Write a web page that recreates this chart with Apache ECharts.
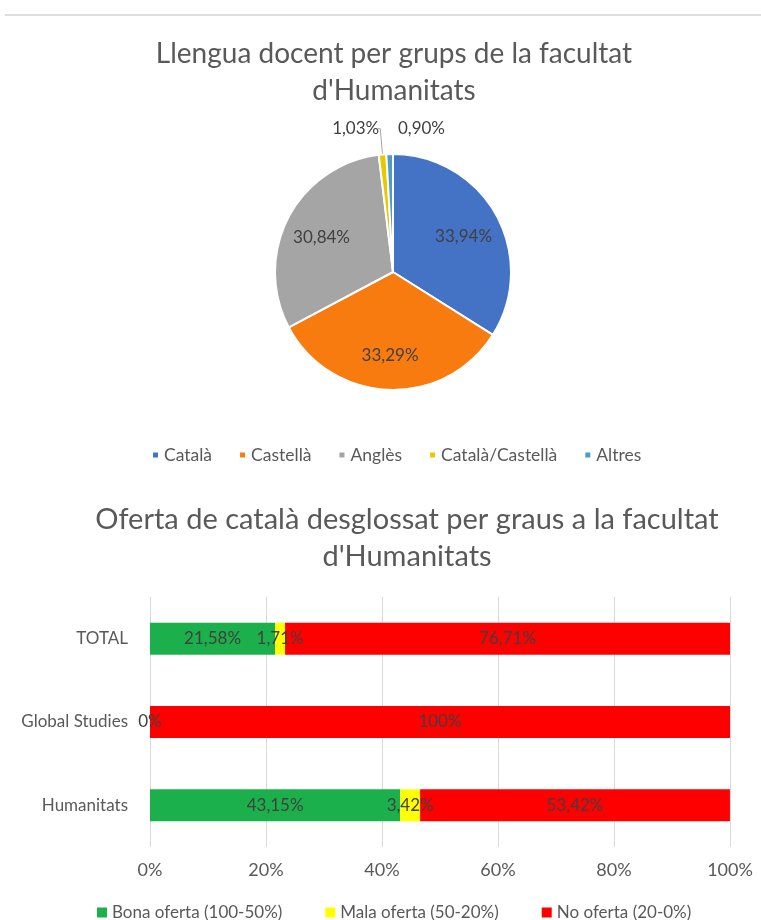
<!DOCTYPE html>
<html>
<head>
<meta charset="utf-8">
<title>Llengua docent - Facultat d'Humanitats</title>
<script src="https://cdn.jsdelivr.net/npm/echarts@6/dist/echarts.min.js"></script>
<style>
  html, body { margin: 0; padding: 0; background: #ffffff; }
  #chart { width: 761px; height: 920px; }
</style>
</head>
<body>
<div id="chart"></div>
<script>
// Pie: teaching language share per group
const pieNames = ['Català', 'Castellà', 'Anglès', 'Català/Castellà', 'Altres'];
const pieValues = [33.94, 33.29, 30.84, 1.03, 0.90];
const pieColors = ['#4472C4', '#F77B0E', '#A5A5A5', '#E8C900', '#4D9BCB'];

// Stacked bars: Catalan offer per degree
const degrees = ['Humanitats', 'Global Studies', 'TOTAL'];
const bonaOferta = [43.15, 0, 21.58];
const malaOferta = [3.42, 0, 1.71];
const noOferta = [53.42, 100, 76.71];
const offerNames = ['Bona oferta (100-50%)', 'Mala oferta (50-20%)', 'No oferta (20-0%)'];
const offerColors = ['#1BB04B', '#FFFF00', '#FF0000'];
const xTicks = [0, 20, 40, 60, 80, 100];

const FONT = 'Lato';
const TXT = '#595959';
const PIE_CENTER = [393, 272];
const PIE_RADIUS = 118;

function pct(v) {
  const s = Number.isInteger(v) ? String(v) : v.toFixed(2).replace('.', ',');
  return s + '%';
}

const chart = echarts.init(document.getElementById('chart'), null, { renderer: 'canvas' });

const pieData = pieNames.map((n, i) => {
  const small = pieValues[i] < 5;
  return {
    name: n,
    value: pieValues[i],
    itemStyle: { color: pieColors[i] },
    label: { position: small ? 'outside' : 'inside', color: '#404040' },
    labelLine: { show: small && i === 3, length: 26, length2: 2, lineStyle: { color: '#A6A6A6', width: 1 } }
  };
});

// Inside labels sit further out than the default half radius;
// the last small slice's label is set to the right of the top.
function pieLabelLayout(p) {
  if (p.seriesIndex !== 0) return {};
  if (p.dataIndex < 3) {
    const r = p.labelRect;
    const lx = r.x + r.width / 2, ly = r.y + r.height / 2;
    return { dx: (lx - PIE_CENTER[0]) * 0.3, dy: (ly - PIE_CENTER[1]) * 0.3 + 3 };
  }
  if (p.dataIndex === 3) {
    return { dx: 6 };
  }
  if (p.dataIndex === 4) {
    return { dx: p.labelRect.width + 16 };
  }
  return {};
}

function barSeries(idx, values, hideZero) {
  return {
    name: offerNames[idx],
    type: 'bar',
    stack: 'oferta',
    xAxisIndex: 0,
    yAxisIndex: 0,
    barWidth: 32,
    itemStyle: { color: offerColors[idx] },
    label: {
      show: true,
      position: 'inside',
      fontFamily: FONT,
      fontSize: 17,
      color: '#404040',
      formatter: p => (hideZero && p.value === 0) ? '' : pct(p.value)
    },
    data: values
  };
}

chart.setOption({
  backgroundColor: '#ffffff',
  animation: false,
  textStyle: { fontFamily: FONT },
  graphic: [{
    type: 'line',
    shape: { x1: 5, y1: 15, x2: 761, y2: 15 },
    style: { stroke: '#D4D4D4', lineWidth: 1.5 }
  }],
  title: [{
    text: "Llengua docent per grups de la facultat\nd'Humanitats",
    left: 389,
    top: 30,
    textAlign: 'center',
    textStyle: { fontFamily: FONT, fontSize: 28, fontWeight: 'normal', color: TXT, lineHeight: 37 }
  }, {
    text: "Oferta de català desglossat per graus a la facultat\nd'Humanitats",
    left: 402,
    top: 496,
    textAlign: 'center',
    textStyle: { fontFamily: FONT, fontSize: 29, fontWeight: 'normal', color: TXT, lineHeight: 37 }
  }],
  legend: [{
    data: pieNames,
    top: 441,
    left: 146,
    icon: 'rect',
    itemWidth: 7,
    itemHeight: 7,
    itemGap: 26,
    textStyle: { fontFamily: FONT, fontSize: 17.5, color: TXT }
  }, {
    data: offerNames,
    top: 899,
    left: 92,
    icon: 'rect',
    itemWidth: 10,
    itemHeight: 10,
    itemGap: 43,
    textStyle: { fontFamily: FONT, fontSize: 17, color: TXT }
  }],
  grid: [{ left: 150, right: 31, top: 597, height: 250 }],
  xAxis: [{
    type: 'value',
    gridIndex: 0,
    min: 0,
    max: 100,
    interval: 20,
    axisLine: { show: false },
    axisTick: { show: false },
    splitLine: { lineStyle: { color: '#D9D9D9' } },
    axisLabel: {
      fontFamily: FONT, fontSize: 18, color: TXT, margin: 14,
      formatter: v => xTicks.includes(v) ? v + '%' : ''
    }
  }],
  yAxis: [{
    type: 'category',
    gridIndex: 0,
    data: degrees,
    axisLine: { show: false },
    axisTick: { show: false },
    axisLabel: { fontFamily: FONT, fontSize: 17, color: TXT, margin: 22 }
  }],
  series: [{
    type: 'pie',
    center: PIE_CENTER,
    radius: [0, PIE_RADIUS],
    startAngle: 90,
    clockwise: true,
    avoidLabelOverlap: false,
    itemStyle: { borderColor: '#ffffff', borderWidth: 2 },
    label: {
      show: true,
      fontFamily: FONT,
      fontSize: 17,
      formatter: p => pct(p.value)
    },
    labelLayout: pieLabelLayout,
    emphasis: { disabled: true },
    data: pieData
  },
  barSeries(0, bonaOferta, false),
  barSeries(1, malaOferta, true),
  barSeries(2, noOferta, false)
  ]
});
</script>
</body>
</html>
